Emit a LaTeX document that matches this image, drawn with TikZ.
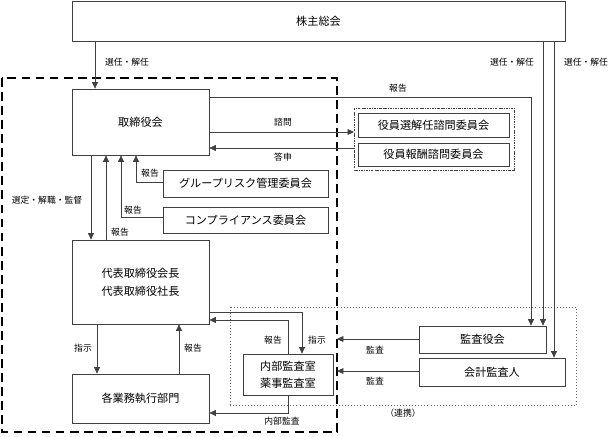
\documentclass[tikz,border=0pt]{standalone}
\usepackage{fontspec}
\setmainfont{Noto Sans CJK JP}
\usetikzlibrary{arrows.meta}

\tikzset{
    box/.style={draw=black!75, line width=0.6pt, inner sep=0pt, align=center,
        font=\fontsize{9.5}{15}\selectfont},
    lbl/.style={font=\fontsize{7.5}{9}\selectfont, inner sep=1pt},
    arr/.style={draw=black!75, line width=0.6pt, -{Triangle[length=5.5pt, width=5pt]}},
    ln/.style={draw=black!75, line width=0.6pt}
}

\begin{document}
\begin{tikzpicture}[x=0.03cm, y=-0.03cm]
    \useasboundingbox (0,0) rectangle (613,436);

    % group frames
        \draw[line width=1.5pt, dash pattern=on 7.5pt off 4.5pt] (2,78) rectangle (337,432);
        \draw[black!60, line width=0.6pt, dotted] (230,307) rectangle (576,405);
        \draw[black!75, line width=0.6pt, dash pattern=on 2pt off 1pt on 0.5pt off 1pt] (354,108) rectangle (514,170);

    % boxes
        \node[box, minimum width=493*0.03cm, minimum height=40*0.03cm] (kabu) at (318.5,21) {株主総会};
        \node[box, minimum width=137*0.03cm, minimum height=66*0.03cm] (tori) at (140.5,122) {取締役会};
        \node[box, minimum width=137*0.03cm, minimum height=84*0.03cm] (daihyo) at (140.5,282) {代表取締役会長\\代表取締役社長};
        \node[box, minimum width=137*0.03cm, minimum height=49*0.03cm] (gyomu) at (140.5,398.5) {各業務執行部門};
        \node[box, minimum width=165*0.03cm, minimum height=27*0.03cm] (risk) at (245.5,183.5) {グループリスク管理委員会};
        \node[box, minimum width=165*0.03cm, minimum height=26*0.03cm] (comp) at (245.5,220) {コンプライアンス委員会};
        \node[box, minimum width=151*0.03cm, minimum height=24*0.03cm] (senkai) at (433.5,125) {役員選解任諮問委員会};
        \node[box, minimum width=151*0.03cm, minimum height=23*0.03cm] (hoshu) at (433.5,154.5) {役員報酬諮問委員会};
        \node[box, minimum width=90*0.03cm, minimum height=41*0.03cm, font=\fontsize{9.5}{14.5}\selectfont] (naibu) at (288,374.5) {内部監査室\\薬事監査室};
        \node[box, minimum width=127*0.03cm, minimum height=27*0.03cm] (kansa) at (482.5,339.5) {監査役会};
        \node[box, minimum width=146*0.03cm, minimum height=28*0.03cm] (kaikei) at (492,372) {会計監査人};

    % free ends on the frames
        \coordinate (inL) at (354,132);
        \coordinate (outL) at (354,148);
        \coordinate (fr1) at (337,339);
        \coordinate (fr2) at (337,371);

    % shareholders
        \draw[arr] (kabu.south -| 95,0) -- (tori.north -| 95,0);
        \draw[arr] (kabu.south -| 543,0) -- (kansa.north -| 543,0);
        \draw[arr] (kabu.south -| 554,0) -- (kaikei.north -| 554,0);
        \node[lbl] (l1) at (127,62) {選任・解任};
        \node[lbl] (l2) at (512,62) {選任・解任};
        \node[lbl] (l3) at (586,62) {選任・解任};

    % board
        \draw[arr] (tori.east |- 0,97) -| (kansa.north -| 531,0);
        \node[lbl] (l4) at (398,88) {報告};
        \draw[arr] (tori.east |- inL) -- (inL);
        \node[lbl] (l5) at (283,122) {諮問};
        \draw[arr] (outL) -- (tori.east |- outL);
        \node[lbl] (l6) at (283,157) {答申};
        \draw[arr] (tori.south -| 91,0) -- (daihyo.north -| 91,0);
        \node[lbl] (l7) at (47,200) {選定・解職・監督};
        \draw[arr] (daihyo.north -| 106,0) -- (tori.south -| 106,0);
        \node[lbl] (l8) at (120,232) {報告};
        \draw[arr] (comp.west |- 0,217) -| (tori.south -| 121,0);
        \node[lbl] (l9) at (133,210) {報告};
        \draw[arr] (risk.west |- 0,182) -| (tori.south -| 136,0);
        \node[lbl] (l10) at (150,173) {報告};

    % execution
        \draw[arr] (daihyo.south -| 97,0) -- (gyomu.north -| 97,0);
        \node[lbl] (l11) at (83,348) {指示};
        \draw[arr] (gyomu.north -| 179,0) -- (daihyo.south -| 179,0);
        \node[lbl] (l12) at (193,348) {報告};
        \draw[arr] (daihyo.east |- 0,312) -| (naibu.north -| 302,0);
        \node[lbl] (l13) at (317,340) {指示};
        \draw[arr] (naibu.north -| 288,0) |- (daihyo.east |- 0,320);
        \node[lbl] (l14) at (273,340) {報告};
        \draw[arr] (naibu.south) |- (gyomu.east |- 0,413);
        \node[lbl] (l15) at (282,421) {内部監査};

    % audit
        \draw[arr] (kansa.west |- fr1) -- (fr1);
        \node[lbl] (l16) at (375,350) {監査};
        \draw[arr] (kaikei.west |- fr2) -- (fr2);
        \node[lbl] (l17) at (375,381) {監査};
        \node[lbl] (l18) at (403,413) {（連携）};

\end{tikzpicture}
\end{document}
